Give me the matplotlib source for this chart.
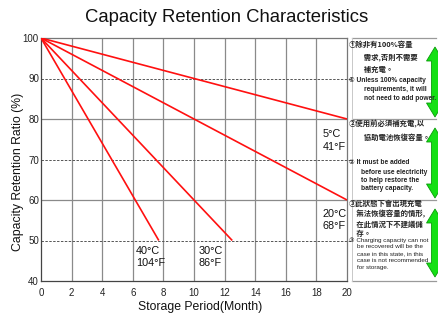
import matplotlib
matplotlib.use("Agg")
import matplotlib.pyplot as plt
from matplotlib.patches import Polygon
from matplotlib.lines import Line2D

# ---- data ----
series_labels = ["5°C\n41°F", "20°C\n68°F", "30°C\n86°F", "40°C\n104°F"]
start_month = 0
start_capacity = 100
end_months = [20, 20, 12.5, 7.7]
end_capacity = [80, 60, 50, 50]
x_ticks = [0, 2, 4, 6, 8, 10, 12, 14, 16, 18, 20]
y_ticks = [40, 50, 60, 70, 80, 90, 100]
dashed_levels = [50, 70, 90]
solid_levels = [60, 80]

title = "Capacity Retention Characteristics"
xlabel = "Storage Period(Month)"
ylabel = "Capacity Retention Ratio (%)"

W, H = 439, 316
fig = plt.figure(figsize=(W / 100, H / 100), dpi=100)
plt.rcParams['font.family'] = ['Liberation Sans', 'DejaVu Sans']

def px(x, y):
    return (x / W, 1 - y / H)

L, R, T, B = 41, 347, 38, 281
ax = fig.add_axes([L / W, 1 - B / H, (R - L) / W, (B - T) / H])
ax.set_xlim(0, 20)
ax.set_ylim(40, 100)

grid_c = "#8a8a8a"
for xv in x_ticks[1:-1]:
    ax.axvline(xv, color=grid_c, lw=0.9, zorder=1)
for yv in solid_levels:
    ax.axhline(yv, color=grid_c, lw=0.9, zorder=1)
for yv in dashed_levels:
    ax.plot([0, 20.25], [yv, yv], color="#555555", lw=0.7, ls=(0, (2.5, 1.5)),
            clip_on=False, zorder=1)

for lab, xe, ye in zip(series_labels, end_months, end_capacity):
    ax.plot([start_month, xe], [start_capacity, ye], color="#ff1010", lw=1.2,
            zorder=3, solid_capstyle="butt")

label_pos = [(18.4, 74.7), (18.4, 55.0), (10.3, 46.0), (6.2, 46.0)]
for lab, (lx, ly) in zip(series_labels, label_pos):
    ax.text(lx, ly, lab, fontsize=7.8, color="#111111", ha="left", va="center",
            linespacing=1.3, zorder=4)

for s in ax.spines.values():
    s.set_color("#777777")
    s.set_linewidth(0.9)
ax.spines['left'].set_color("#444444")
ax.spines['bottom'].set_color("#444444")

ax.set_xticks(x_ticks)
ax.set_yticks(y_ticks)
ax.tick_params(length=0, labelsize=7, colors="#222222")
ax.tick_params(axis="x", pad=5)
ax.tick_params(axis="y", pad=1.5)
ax.set_xlabel(xlabel, fontsize=8.8, color="#111111")
ax.xaxis.set_label_coords(0.52, -0.084)
ax.set_ylabel(ylabel, fontsize=8.8, color="#111111")
ax.yaxis.set_label_coords(-0.055, 0.45)

fig.text(*px(227, 18), title, fontsize=13.3, ha="center", va="center", color="#111111")

# ---- right side note panel ----
panel_c = "#9a9a9a"
for yy in [38, 119, 200, 281]:
    fig.add_artist(Line2D([352 / W, 436 / W], [1 - yy / H, 1 - yy / H], color=panel_c, lw=0.9))
fig.add_artist(Line2D([352 / W, 352 / W], [1 - 38 / H, 1 - 281 / H], color="#c8c8c8", lw=0.7))

cjk = ['Noto Sans CJK TC', 'DejaVu Sans']
eng = ['Liberation Sans', 'DejaVu Sans']
FS = "\u3000"

cjk_blocks = [
    # (x, y_top, text, linespacing)
    (349, 40, "①除非有100%容量\n" + FS * 2 + "需求,否則不需要\n" + FS * 2 + "補充電。", 1.9),
    (349, 120, "②使用前必須補充電,以\n" + FS * 2 + "協助電池恢復容量。", 1.9),
    (349, 200, "③此狀態下會出現充電\n" + FS + "無法恢復容量的情形,\n" + FS
     + "在此情況下不建議儲\n" + FS + "存。", 1.35),
]
for x, y, t, ls in cjk_blocks:
    fig.text(*px(x, y), t, family=cjk, fontsize=5.3, fontweight="bold",
             ha="left", va="top", color="#222222", linespacing=ls)

notes = [
    (349, 81, "① Unless 100% capacity", 4.8, "bold"),
    (364, 89.5, "requirements, it will", 4.8, "bold"),
    (364, 98, "not need to add power.", 4.8, "bold"),
    (349, 163, "② It must be added", 4.8, "bold"),
    (361, 172, "before use electricity", 4.8, "bold"),
    (361, 180, "to help restore the", 4.8, "bold"),
    (361, 188.5, "battery capacity.", 4.8, "bold"),
    (349, 240, "③ Charging capacity can not", 4.5, "normal"),
    (357, 247, "be recovered will be the", 4.5, "normal"),
    (357, 254, "case in this state, in this", 4.5, "normal"),
    (357, 261, "case is not recommended", 4.5, "normal"),
    (357, 268, "for storage.", 4.5, "normal"),
]
for x, y, t, fs, fw in notes:
    fig.text(*px(x, y), t, family=eng, fontsize=fs, fontweight=fw,
             ha="left", va="center", color="#222222")

# green double-headed arrows (decoration)
def dbl_arrow(y0, y1, xs0=431.5, xs1=438.5, xh0=426.5, xh1=443.5, hl=14):
    pts = [((xs0 + xs1) / 2, y0), (xh1, y0 + hl), (xs1, y0 + hl), (xs1, y1 - hl),
           (xh1, y1 - hl), ((xs0 + xs1) / 2, y1), (xh0, y1 - hl), (xs0, y1 - hl),
           (xs0, y0 + hl), (xh0, y0 + hl)]
    poly = Polygon([px(a, b) for a, b in pts], closed=True, transform=fig.transFigure,
                   facecolor="#14e014", edgecolor="#0a9a0a", lw=0.6)
    fig.add_artist(poly)

dbl_arrow(47, 117)
dbl_arrow(128, 198)
dbl_arrow(209, 277)

fig.savefig("out.png", dpi=100)
